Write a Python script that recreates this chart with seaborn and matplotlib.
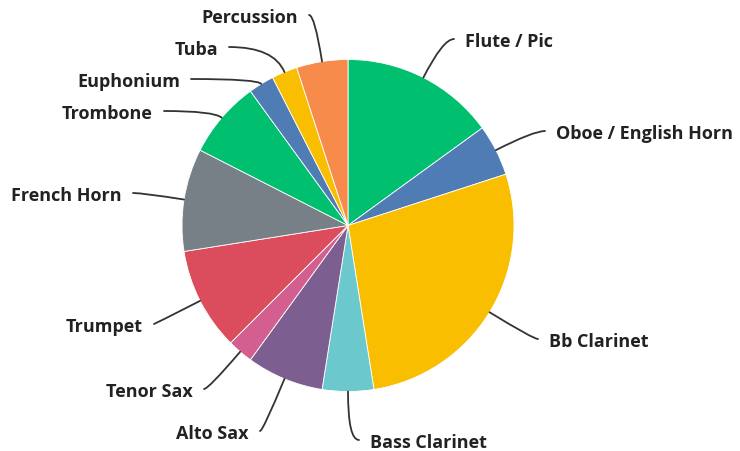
import matplotlib
matplotlib.use("Agg")
import numpy as np
import matplotlib.pyplot as plt
import seaborn as sns

# band sections, clockwise from 12 o'clock
instruments = ["Flute / Pic", "Oboe / English Horn", "Bb Clarinet", "Bass Clarinet",
               "Alto Sax", "Tenor Sax", "Trumpet", "French Horn", "Trombone",
               "Euphonium", "Tuba", "Percussion"]
players = [6, 2, 11, 2, 3, 1, 4, 4, 3, 1, 1, 2]
slice_colors = ["#00BF6F", "#507CB6", "#F9BE00", "#6BC8CD", "#7D5E90", "#D25F90",
                "#DB4D5C", "#768086", "#00BF6F", "#507CB6", "#F9BE00", "#F78B4C"]

# where each label sits (pixels from top-left): text edge x, middle y, side
label_spots = {
    "Flute / Pic": (465, 40, "right"),
    "Oboe / English Horn": (556, 132, "right"),
    "Bb Clarinet": (549, 340, "right"),
    "Bass Clarinet": (370, 441, "right"),
    "Alto Sax": (249, 432, "left"),
    "Tenor Sax": (193, 390, "left"),
    "Trumpet": (143, 325, "left"),
    "French Horn": (122, 194, "left"),
    "Trombone": (153, 112, "left"),
    "Euphonium": (180, 80, "left"),
    "Tuba": (218, 48, "left"),
    "Percussion": (298, 16, "left"),
}

W, H = 740, 452
cx, cy, r = 348, H - 226.5, 166

sns.set_theme(style="white")
plt.rcParams["font.family"] = ["Open Sans", "DejaVu Sans"]

fig = plt.figure(figsize=(W / 100, H / 100), dpi=100)
ax = fig.add_axes([0, 0, 1, 1])

pal = sns.color_palette(slice_colors)
wedges, _ = ax.pie(players, colors=pal, startangle=90, counterclock=False,
                   center=(cx, cy), radius=r,
                   wedgeprops=dict(edgecolor="white", linewidth=0.6))

ax.set_xlim(0, W)
ax.set_ylim(0, H)
ax.set_aspect("equal")
ax.axis("off")

# leader lines + labels
for w, name in zip(wedges, instruments):
    mid = np.deg2rad((w.theta1 + w.theta2) / 2)
    sx, sy = cx + r * np.cos(mid), cy + r * np.sin(mid)
    tx, ty, side = label_spots[name]
    ty = H - ty
    ex = tx - 11 if side == "right" else tx + 11
    ax.annotate("", xy=(sx, sy), xytext=(ex, ty),
                arrowprops=dict(arrowstyle="-", color="#333333", lw=1.3,
                                shrinkA=0, shrinkB=0,
                                connectionstyle=f"angle3,angleA=0,angleB={np.rad2deg(mid):.1f}"))
    ax.text(tx, ty, name, ha="left" if side == "right" else "right", va="center_baseline",
            fontsize=13, fontweight="bold", color="#222222")

fig.savefig("out.png", dpi=100)
